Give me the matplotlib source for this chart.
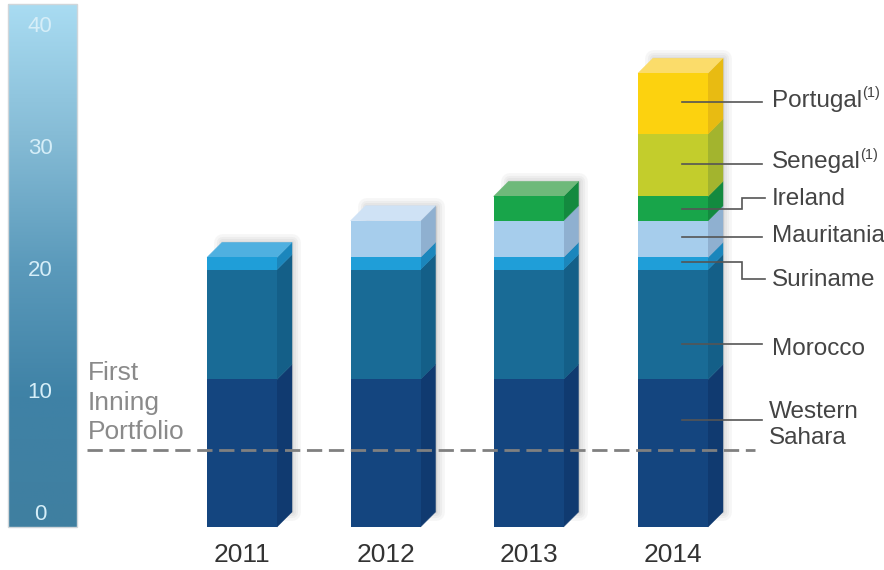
import numpy as np
import matplotlib
matplotlib.use("Agg")
import matplotlib.pyplot as plt
from matplotlib.colors import LinearSegmentedColormap
from matplotlib.patches import Polygon

plt.rcParams['font.family'] = ['Liberation Sans', 'DejaVu Sans']

years = ['2011', '2012', '2013', '2014']
western_sahara = [12.1, 12.1, 12.1, 12.1]
morocco = [9.0, 9.0, 9.0, 9.0]
suriname = [1.0, 1.0, 1.0, 1.0]
mauritania = [0, 3.0, 3.0, 3.0]
ireland = [0, 0, 2.0, 2.0]
senegal = [0, 0, 0, 5.1]
portugal = [0, 0, 0, 5.0]
gauge_ticks = [0, 10, 20, 30, 40]
first_inning = 6.3

series = [western_sahara, morocco, suriname, mauritania, ireland, senegal, portugal]
front_cols = ['#14457f', '#196b96', '#1f9ed8', '#a6cdec', '#18a54a', '#c3cd2c', '#fcd20f']
side_cols = ['#103a70', '#145f88', '#1b86bc', '#8fb0d0', '#138a3f', '#a3b42e', '#e8bb12']
top_cols = ['#2a5f9a', '#3a8ab0', '#4fb0e0', '#cfe2f5', '#6eb97a', '#d8df6a', '#fbdc6a']

PX = 12.2  # pixels per unit on the vertical scale
BASE = 527
bar_x = [242, 385.5, 528.5, 673]
bar_w = 70
dx = 15
dv = 15 / PX

def py(y):
    return (BASE - y) / PX

fig = plt.figure(figsize=(8.84, 5.70), dpi=100)
ax = fig.add_axes([0, 0, 1, 1])
ax.set_xlim(0, 884)
ax.set_ylim(py(570), py(0))
ax.axis('off')

# gauge on the left
gauge = LinearSegmentedColormap.from_list('gauge', ['#a9dcf2', '#86bcd6', '#5b9abb', '#3f82a6', '#3f7fa0'])
ramp = np.linspace(0, 1, 256).reshape(-1, 1)
ax.imshow(ramp, cmap=gauge, extent=(8, 77, py(527), py(4)), aspect='auto', zorder=1)
ax.add_patch(Polygon([(8, py(527)), (77, py(527)), (77, py(4)), (8, py(4))], closed=True,
                     fill=False, ec='#d0d6da', lw=1.0, zorder=2))
ax.set_xlim(0, 884)
ax.set_ylim(py(570), py(0))
for t in gauge_ticks:
    ax.text(40, t + 1.0, str(t), color='#d6eef8', fontsize=16, ha='center', va='center', zorder=3)

totals = np.sum(series, axis=0)

# soft shadow behind each column, stronger towards the back and the right
for x, tot in zip(bar_x, totals):
    l, r = x - bar_w / 2, x + bar_w / 2
    outline = [(l + dx, dv), (r + dx, dv), (r + dx, tot + dv), (l + dx, tot + dv)]
    for lw in [12, 8, 5, 2]:
        ax.add_patch(Polygon(outline, closed=True, fc='#555555', ec='#555555', lw=lw, alpha=0.05,
                             joinstyle='round', zorder=3))

bottom = np.zeros(4)
for vals, fc, sc, tc in zip(series, front_cols, side_cols, top_cols):
    vals = np.array(vals, dtype=float)
    ax.bar(bar_x, vals, width=bar_w, bottom=bottom, color=fc, lw=0, zorder=5)
    for x, b, v, tot in zip(bar_x, bottom, vals, totals):
        if v == 0:
            continue
        r = x + bar_w / 2
        ax.add_patch(Polygon([(r, b), (r + dx, b + dv), (r + dx, b + v + dv), (r, b + v)],
                             closed=True, fc=sc, ec=sc, lw=0.3, zorder=4))
        if abs(b + v - tot) < 1e-6:
            l = x - bar_w / 2
            ax.add_patch(Polygon([(l, tot), (r, tot), (r + dx, tot + dv), (l + dx, tot + dv)],
                                 closed=True, fc=tc, ec=tc, lw=0.3, zorder=4))
    bottom += vals

for x, yr in zip(bar_x, years):
    ax.text(x, py(555.5), yr, fontsize=19, color='#333333', ha='center', va='center', zorder=8)

# first inning portfolio marker
ax.plot([87, 755], [first_inning, first_inning], color='#808080', lw=2.0, dashes=(5.5, 2.4), zorder=6)
for txt, y in zip(['First', 'Inning', 'Portfolio'], [373, 403, 432]):
    ax.text(88, py(y), txt, fontsize=19, color='#8a8a8a', ha='left', va='center', zorder=8)

# leader lines and country labels
leaders = [
    ('Portugal', [682, 762], [102, 102], 772, 101),
    ('Senegal', [682, 762], [164, 164], 772, 162),
    ('Ireland', [682, 742, 742, 765], [209, 209, 198, 198], 772, 199),
    ('Mauritania', [682, 762], [237, 237], 772, 236),
    ('Suriname', [682, 742, 742, 765], [262, 262, 279, 279], 772, 280),
    ('Morocco', [682, 762], [344, 344], 772, 349),
]
for name, xs, ys, tx, ty in leaders:
    ax.plot(xs, [py(v) for v in ys], color='#555555', lw=1.2, zorder=7, solid_joinstyle='miter')
    ax.text(tx, py(ty), name, fontsize=17.5, color='#444444', ha='left', va='center', zorder=8)

ax.plot([682, 762], [py(420), py(420)], color='#555555', lw=1.2, zorder=7)
ax.text(769, py(412), 'Western', fontsize=17.5, color='#444444', ha='left', va='center', zorder=8)
ax.text(769, py(438), 'Sahara', fontsize=17.5, color='#444444', ha='left', va='center', zorder=8)

ax.text(862, py(93), '(1)', fontsize=10.5, color='#444444', ha='left', va='center', zorder=8)
ax.text(860, py(155), '(1)', fontsize=10.5, color='#444444', ha='left', va='center', zorder=8)

fig.savefig('out.png', dpi=100, facecolor='white')
